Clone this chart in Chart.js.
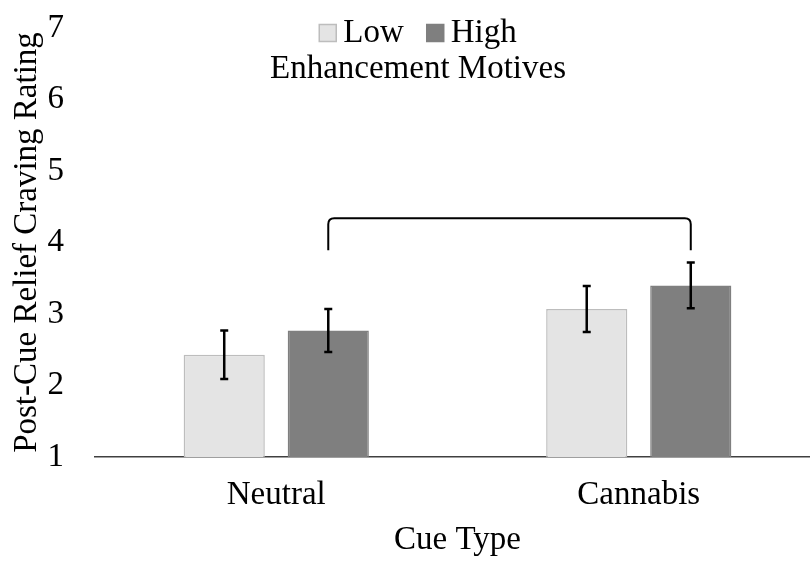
<!DOCTYPE html>
<html>
<head>
<meta charset="utf-8">
<script src="https://cdn.jsdelivr.net/npm/chart.js@4.4.1/dist/chart.umd.min.js"></script>
<style>
  html, body { margin: 0; padding: 0; background: #fff; overflow: hidden; }
  #wrap { width: 810px; height: 564px; overflow: hidden; }
</style>
</head>
<body>
<div id="wrap"><canvas id="myChart" width="820" height="564"></canvas></div>
<script>
const cueTypes = ['Neutral', 'Cannabis']; // axe X
const seriesNames = ['Low', 'High'];
const lowMeans = [2.43, 3.07];
const highMeans = [2.77, 3.40];
const lowErr = [0.34, 0.32]; // +/- erreur
const highErr = [0.30, 0.32];
const yTicks = [1, 2, 3, 4, 5, 6, 7];
const legendTitle = 'Enhancement Motives';
// crochet entre Neutral-High et Cannabis-High
const bracketTop = 4.34;
const bracketEnd = 3.89;

const serif = "'Liberation Serif', 'Times New Roman', serif";
const fontSize = 33;
const visibleWidth = 810; // le canvas deborde un peu a droite (axe coupe)

// barres d'erreur + crochet
const errorBars = {
    id: 'errorBars',
    afterDatasetsDraw(chart) {
        const ctx = chart.ctx;
        const y = chart.scales.y;
        const errs = [lowErr, highErr];
        ctx.save();
        ctx.strokeStyle = '#000';
        ctx.lineWidth = 2.5;
        chart.data.datasets.forEach((ds, i) => {
            const meta = chart.getDatasetMeta(i);
            meta.data.forEach((bar, j) => {
                const top = y.getPixelForValue(ds.data[j] + errs[i][j]);
                const bot = y.getPixelForValue(ds.data[j] - errs[i][j]);
                ctx.beginPath();
                ctx.moveTo(bar.x, top); ctx.lineTo(bar.x, bot);
                ctx.moveTo(bar.x - 4, top); ctx.lineTo(bar.x + 4, top);
                ctx.moveTo(bar.x - 4, bot); ctx.lineTo(bar.x + 4, bot);
                ctx.stroke();
            });
        });
        // crochet
        const hi = chart.getDatasetMeta(1).data;
        const x1 = hi[0].x, x2 = hi[1].x;
        const yt = y.getPixelForValue(bracketTop);
        const yb = y.getPixelForValue(bracketEnd);
        ctx.lineWidth = 2;
        ctx.beginPath();
        ctx.moveTo(x1, yb);
        ctx.lineTo(x1, yt + 6);
        ctx.quadraticCurveTo(x1, yt, x1 + 6, yt);
        ctx.lineTo(x2 - 6, yt);
        ctx.quadraticCurveTo(x2, yt, x2, yt + 6);
        ctx.lineTo(x2, yb);
        ctx.stroke();
        ctx.restore();
    }
};

// legende dessinee par-dessus la zone du graphe
const floatLegend = {
    id: 'floatLegend',
    afterDraw(chart) {
        const ctx = chart.ctx;
        const cx = visibleWidth / 2 + 13;
        ctx.save();
        ctx.font = fontSize + 'px ' + serif;
        ctx.textBaseline = 'middle';
        ctx.fillStyle = '#000';
        const box = 17, gapBox = 7, gapItem = 23;
        const items = chart.data.datasets.map(ds => ({
            label: ds.label, fill: ds.backgroundColor, border: ds.borderColor,
            w: box + gapBox + ctx.measureText(ds.label).width
        }));
        const total = items.reduce((s, it) => s + it.w, 0) + gapItem * (items.length - 1);
        let x = cx - total / 2;
        const yy = 33;
        items.forEach(it => {
            ctx.fillStyle = it.fill;
            ctx.fillRect(x, yy - box / 2, box, box);
            ctx.strokeStyle = it.border;
            ctx.lineWidth = 1.5;
            ctx.strokeRect(x, yy - box / 2, box, box);
            ctx.fillStyle = '#000';
            ctx.textAlign = 'left';
            ctx.fillText(it.label, x + box + gapBox, yy);
            x += it.w + gapItem;
        });
        ctx.textAlign = 'center';
        ctx.fillText(legendTitle, cx, 69);
        ctx.restore();
    }
};

const ctx = document.getElementById('myChart');
const myChart = new Chart(ctx, {
    type: 'bar',
    data: {
        labels: cueTypes,
        datasets: [
            {
                label: seriesNames[0],
                data: lowMeans,
                backgroundColor: '#e4e4e4',
                borderColor: '#bdbdbd',
                borderWidth: 1.5
            },
            {
                label: seriesNames[1],
                data: highMeans,
                backgroundColor: '#7f7f7f',
                borderColor: '#7f7f7f',
                borderWidth: 1.5
            }
        ]
    },
    options: {
        responsive: false,
        animation: false,
        devicePixelRatio: 1,
        layout: { padding: { top: 28, right: 0, left: 0, bottom: 0 } },
        datasets: { bar: { categoryPercentage: 0.574, barPercentage: 0.78 } },
        plugins: {
            legend: { display: false },
            tooltip: { enabled: false }
        },
        scales: {
            x: {
                grid: { display: false, drawTicks: false },
                border: { color: '#404040', width: 1.5 },
                ticks: { color: '#000', font: { family: serif, size: fontSize }, padding: 19 },
                title: { display: true, text: 'Cue Type', color: '#000', font: { family: serif, size: fontSize }, padding: { top: 0, bottom: 4 } },
                afterFit: s => { s.height = 107; }
            },
            y: {
                min: 1, max: 7,
                afterBuildTicks: s => { s.ticks = yTicks.map(v => ({ value: v })); },
                grid: { display: false, drawTicks: false },
                border: { display: false },
                ticks: { color: '#000', font: { family: serif, size: fontSize }, padding: 31 },
                title: { display: true, text: 'Post-Cue Relief Craving Rating', color: '#000', font: { family: serif, size: fontSize }, padding: { top: 8, bottom: 0 } },
                afterFit: s => { s.width = 95; s.paddingTop = 18; s.paddingBottom = 0; }
            }
        }
    },
    plugins: [errorBars, floatLegend]
});
</script>
</body>
</html>
